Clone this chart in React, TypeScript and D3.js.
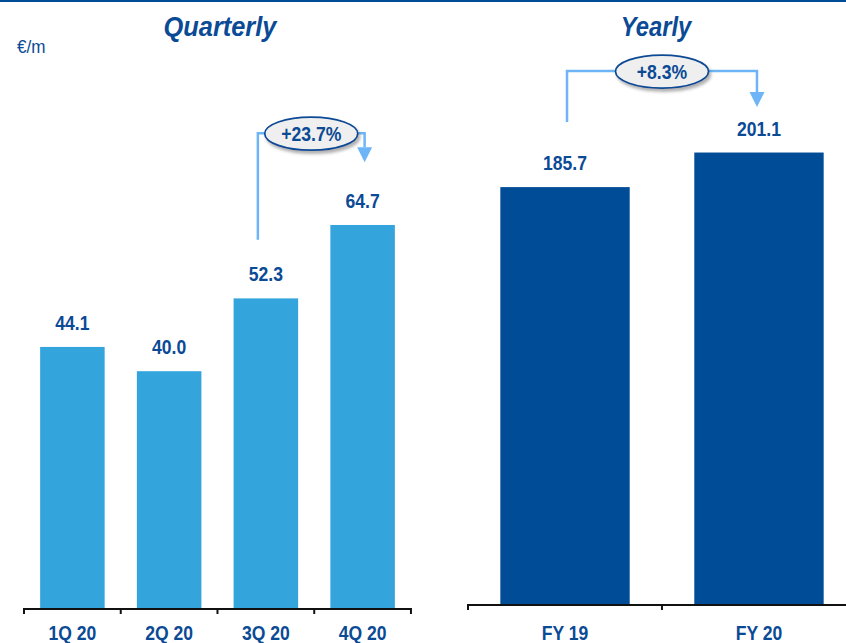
import React from "react";
import * as d3 from "d3";

const quarters = ["1Q 20", "2Q 20", "3Q 20", "4Q 20"];
const quarterValues = [44.1, 40.0, 52.3, 64.7];
const years = ["FY 19", "FY 20"];
const yearValues = [185.7, 201.1];
const quarterAnnotation = { from: "3Q 20", to: "4Q 20", label: "+23.7%", level: 80.2, startBottom: 62.2, tip: 75.3 };
const yearAnnotation = { from: "FY 19", to: "FY 20", label: "+8.3%", level: 237.4, startBottom: 214.7, tip: 221.4 };

const W = 846;
const H = 643;
const TEXT = "#0b4a95";
const QBAR = "#34a5dc";
const YBAR = "#004c97";
const ARROW = "#6db5f7";
const FONT = "'Liberation Sans', Arial, Helvetica, sans-serif";
const SX = 0.9;

function CText({ x, y, children, size, italic, weight = "bold", anchor = "middle", sx = SX }: any) {
  return (
    <g transform={`translate(${x},${y}) scale(${sx},1)`}>
      <text
        textAnchor={anchor}
        fontFamily={FONT}
        fontSize={size}
        fontWeight={weight}
        fontStyle={italic ? "italic" : "normal"}
        fill={TEXT}
      >
        {children}
      </text>
    </g>
  );
}

function Annotation({ x0, x1, yLevel, yStart, yTip, label }: any) {
  const ah = 15;
  const aw = 7.5;
  const cx = (x0 + x1) / 2;
  return (
    <g>
      <path
        d={`M${x0},${yStart} V${yLevel} H${x1} V${yTip - ah}`}
        fill="none"
        stroke={ARROW}
        strokeWidth={2.5}
      />
      <path d={`M${x1 - aw},${yTip - ah} L${x1 + aw},${yTip - ah} L${x1},${yTip} Z`} fill={ARROW} />
      <ellipse cx={cx} cy={yLevel + 0.5} rx={46.5} ry={16.5} fill="#efefef" stroke={TEXT} strokeWidth={1.7} filter="url(#shadow)" />
      <CText x={cx} y={yLevel + 8} size={20} sx={0.88}>{label}</CText>
    </g>
  );
}

export default function App() {
  const xQ = d3.scaleBand<string>().domain(quarters).range([24, 411]).paddingInner(0.333).paddingOuter(0.1667);
  const yQ = d3.scaleLinear().domain([0, 100]).range([608, 16]);
  const xY = d3.scaleBand<string>().domain(years).range([468, 856]).paddingInner(0.333).paddingOuter(0.1667);
  const yY = d3.scaleLinear().domain([0, 250]).range([604, 604 - 2.245 * 250]);

  const qStep = xQ.step();
  const yStep = xY.step();
  const qTicks = d3.range(quarters.length + 1).map((i) => 24 + i * qStep);
  const yTicks = d3.range(years.length + 1).map((i) => 468 + i * yStep);

  const qa = quarterAnnotation;
  const ya = yearAnnotation;

  return (
    <svg width={W} height={H} style={{ position: "absolute", left: 0, top: 0, background: "#fff" }}>
      <defs>
        <filter id="shadow" x="-20%" y="-30%" width="150%" height="180%">
          <feDropShadow dx="2" dy="3" stdDeviation="1.5" floodColor="#555" floodOpacity="0.45" />
        </filter>
      </defs>
      <rect x={0} y={0} width={W} height={H} fill="#fff" />
      <rect x={0} y={0} width={W} height={2} fill={YBAR} />

      <CText x={220} y={36} size={27} italic sx={0.94}>Quarterly</CText>
      <CText x={656} y={36} size={27} italic sx={0.88}>Yearly</CText>
      <CText x={17} y={53} size={19} weight="normal" anchor="start">€/m</CText>

      {/* Quarterly bars */}
      {quarters.map((q, i) => (
        <g key={q}>
          <rect x={xQ(q)} y={yQ(quarterValues[i])} width={xQ.bandwidth()} height={yQ(0) - yQ(quarterValues[i])} fill={QBAR} />
          <CText x={xQ(q)! + xQ.bandwidth() / 2} y={yQ(quarterValues[i]) - 17} size={19.5}>
            {quarterValues[i].toFixed(1)}
          </CText>
          <CText x={xQ(q)! + xQ.bandwidth() / 2} y={640} size={19.5}>{q}</CText>
        </g>
      ))}
      <line x1={24} x2={411} y1={609} y2={609} stroke="#111" strokeWidth={2} />
      {qTicks.map((t, i) => (
        <line key={i} x1={t} x2={t} y1={608} y2={614} stroke="#111" strokeWidth={2} />
      ))}

      {/* Yearly bars */}
      {years.map((yv, i) => (
        <g key={yv}>
          <rect x={xY(yv)} y={yY(yearValues[i])} width={xY.bandwidth()} height={yY(0) - yY(yearValues[i])} fill={YBAR} />
          <CText x={xY(yv)! + xY.bandwidth() / 2} y={yY(yearValues[i]) - 17} size={19.5}>
            {yearValues[i].toFixed(1)}
          </CText>
          <CText x={xY(yv)! + xY.bandwidth() / 2} y={640} size={19.5}>{yv}</CText>
        </g>
      ))}
      <line x1={468} x2={856} y1={605} y2={605} stroke="#111" strokeWidth={2} />
      {yTicks.map((t, i) => (
        <line key={i} x1={t} x2={t} y1={604} y2={610} stroke="#111" strokeWidth={2} />
      ))}

      <Annotation
        x0={xQ(qa.from)! + xQ.bandwidth() / 2 - 8}
        x1={xQ(qa.to)! + xQ.bandwidth() / 2 + 2}
        yLevel={yQ(qa.level)}
        yStart={yQ(qa.startBottom)}
        yTip={yQ(qa.tip)}
        label={qa.label}
      />
      <Annotation
        x0={xY(ya.from)! + xY.bandwidth() / 2 + 2}
        x1={xY(ya.to)! + xY.bandwidth() / 2 - 2}
        yLevel={yY(ya.level)}
        yStart={yY(ya.startBottom)}
        yTip={yY(ya.tip)}
        label={ya.label}
      />
    </svg>
  );
}
